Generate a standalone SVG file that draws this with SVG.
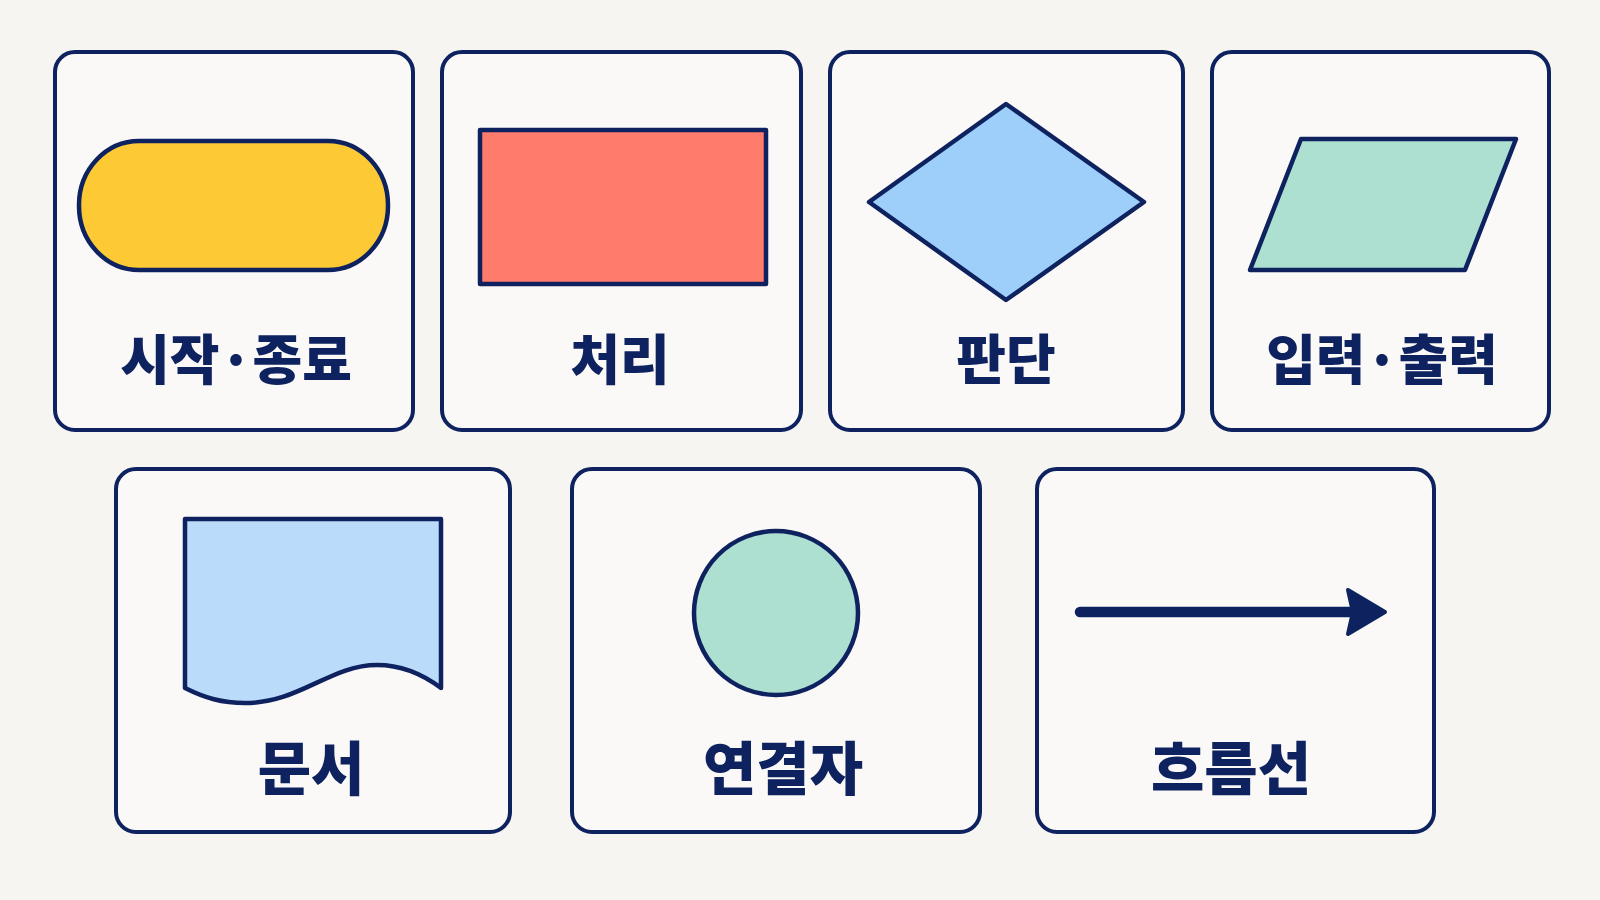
<svg xmlns="http://www.w3.org/2000/svg" width="1600" height="900" viewBox="0 0 1600 900">
<defs>
<style>
.card{fill:#FAF9F7;stroke:#0E2260;stroke-width:4}
.shape{stroke:#0E2260;stroke-width:4.5;stroke-linejoin:round}
.lbl{font-family:"Noto Sans CJK KR","Noto Sans",sans-serif;font-weight:900;fill:#0E2260;text-anchor:middle}
.r1{font-size:54px}
.r2{font-size:58px}
</style>
</defs>
<rect x="0" y="0" width="1600" height="900" fill="#F6F5F2"/>
<g id="node-terminal">
<rect class="card" x="55" y="52" width="358" height="378" rx="20"/>
<rect class="shape" x="79" y="141" width="309" height="129" rx="60" ry="64" fill="#FDC935"/>
<text class="lbl r1" x="236" y="380">시작·종료</text>
</g>
<g id="node-process">
<rect class="card" x="442" y="52" width="359" height="378" rx="20"/>
<rect class="shape" x="480" y="130" width="286" height="154" fill="#FF7B6B"/>
<text class="lbl r1" x="620" y="380">처리</text>
</g>
<g id="node-decision">
<rect class="card" x="830" y="52" width="353" height="378" rx="20"/>
<polygon class="shape" points="1006,104 1144,202 1006,300 869,202" fill="#9ECFFA"/>
<text class="lbl r1" x="1006" y="380">판단</text>
</g>
<g id="node-io">
<rect class="card" x="1212" y="52" width="337" height="378" rx="20"/>
<polygon class="shape" points="1301,139 1516,139 1465,270 1250,270" fill="#ADE0D0"/>
<text class="lbl r1" x="1382" y="380">입력·출력</text>
</g>
<g id="node-document">
<rect class="card" x="116" y="469" width="394" height="363" rx="20"/>
<path class="shape" d="M185,519 H441 V688 C425,676 405,665 377,665 C330,665 300,703 245,703 C222,703 205,698 185,688 Z" fill="#BBDBFA"/>
<text class="lbl r2" x="311" y="790">문서</text>
</g>
<g id="node-connector">
<rect class="card" x="572" y="469" width="408" height="363" rx="20"/>
<circle class="shape" cx="776" cy="613" r="82" fill="#AEE0D1"/>
<text class="lbl r2" x="783" y="790">연결자</text>
</g>
<g id="node-flowline">
<rect class="card" x="1037" y="469" width="397" height="363" rx="20"/>
<text class="lbl r2" x="1231" y="790">흐름선</text>
</g>
<g id="connectors">
<line x1="1080" y1="612" x2="1354" y2="612" stroke="#0E2260" stroke-width="10.5" stroke-linecap="round"/>
<polygon points="1348,590 1385,612 1348,634 1353,612" fill="#0E2260" stroke="#0E2260" stroke-width="4" stroke-linejoin="round"/>
</g>
</svg>
